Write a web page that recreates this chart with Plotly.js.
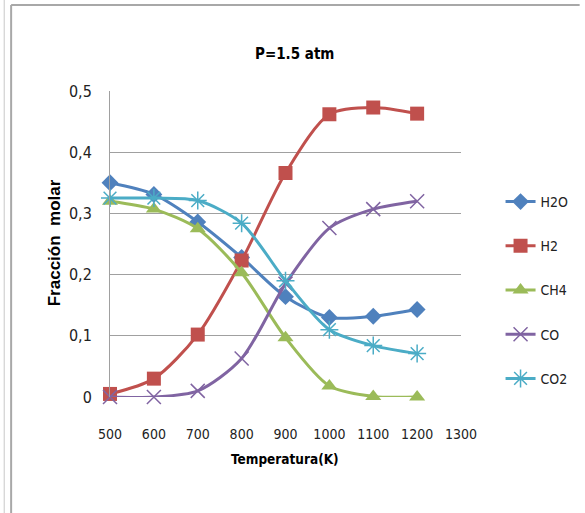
<!DOCTYPE html>
<html>
<head>
<meta charset="utf-8">
<script src="https://cdn.plot.ly/plotly-3.0.1.min.js"></script>
<style>html,body{margin:0;padding:0;background:#fff;}#chart{width:585px;height:513px;}</style>
</head>
<body>
<div id="chart"></div>
<script>
const temperatures = [500, 600, 700, 800, 900, 1000, 1100, 1200];
const seriesNames = ["H2O", "H2", "CH4", "CO", "CO2"];
const h2o = [0.350, 0.331, 0.286, 0.228, 0.164, 0.130, 0.132, 0.143];
const h2  = [0.005, 0.030, 0.102, 0.223, 0.366, 0.462, 0.473, 0.463];
const ch4 = [0.320, 0.307, 0.275, 0.203, 0.097, 0.018, 0.001, 0.000];
const co  = [0.000, 0.000, 0.010, 0.063, 0.185, 0.276, 0.307, 0.320];
const co2 = [0.325, 0.325, 0.321, 0.284, 0.190, 0.110, 0.084, 0.071];
const xTickVals = [500, 600, 700, 800, 900, 1000, 1100, 1200, 1300];
const yTickVals = [0, 0.1, 0.2, 0.3, 0.4, 0.5];
const yTickLabels = ["0", "0,1", "0,2", "0,3", "0,4", "0,5"];

const colors = ["#4F81BD", "#C0504D", "#9BBB59", "#8064A2", "#4BACC6"];
const symbols = ["diamond", "square", "triangle-up", "x-thin-open", "asterisk-open"];
const sizes = [13, 14, 14, 14, 15];
const values = [h2o, h2, ch4, co, co2];

const FONT = "DejaVu Sans Condensed, Liberation Sans Narrow, sans-serif";
// plot area in pixels: x 110..465, y 91..397
const L = 110, R = 465, T = 91, B = 397, W = 585, H = 513;
const px = p => (p - L) / (R - L);
const py = p => (B - p) / (B - T);

const traces = values.map((v, i) => ({
  x: temperatures, y: v, name: seriesNames[i], type: "scatter", mode: "lines+markers",
  line: {color: colors[i], width: 3, shape: "spline", smoothing: 0.8},
  marker: {symbol: symbols[i], size: sizes[i], color: colors[i],
           line: {color: colors[i], width: (i >= 3 ? 1.5 : 0)}},
  legendgroup: "g" + i, cliponaxis: false
}));

const layout = {
  width: W, height: H,
  margin: {l: L, r: W - R, t: T, b: H - B, pad: 0},
  paper_bgcolor: "#fff", plot_bgcolor: "#fff",
  showlegend: true,
  font: {family: FONT, color: "#222", size: 14},
  xaxis: {range: [500, 1300], tickvals: xTickVals, ticktext: xTickVals.map(String),
          showgrid: false, zeroline: false, showline: false, ticks: "", ticklen: 0,
          ticklabelstandoff: 27, tickfont: {size: 14}, fixedrange: true},
  yaxis: {range: [0, 0.5], tickvals: yTickVals, ticktext: yTickLabels,
          showgrid: true, gridcolor: "#A0A0A0", gridwidth: 1, zeroline: false,
          showline: true, linecolor: "#A0A0A0", linewidth: 1, ticks: "", ticklabelstandoff: 14,
          tickfont: {size: 16}, fixedrange: true},
  legend: {x: px(505), y: py(186), xanchor: "left", yanchor: "top",
           font: {size: 14}, tracegroupgap: 23, itemwidth: 30, bgcolor: "rgba(0,0,0,0)"},
  annotations: [
    {text: "<b>P=1.5 atm</b>", x: px(297), y: py(43), xref: "paper", yref: "paper",
     showarrow: false, font: {size: 15, family: FONT, color: "#000"}},
    {text: "<b>Temperatura(K)</b>", x: px(287), y: py(469), xref: "paper", yref: "paper",
     showarrow: false, font: {size: 13.5, family: FONT, color: "#000"}},
    {text: "<b>Fracción  molar</b>", x: px(42), y: py(243), xref: "paper", yref: "paper",
     showarrow: false, textangle: -90, font: {size: 17, family: "Liberation Sans, Arial, sans-serif", color: "#000"}}
  ],
  shapes: [
    {type: "line", xref: "paper", yref: "paper", x0: px(10), x1: px(585), y0: py(5), y1: py(5),
     line: {color: "#A8A8A8", width: 2}},
    {type: "line", xref: "paper", yref: "paper", x0: px(10), x1: px(10), y0: py(5), y1: py(513),
     line: {color: "#A8A8A8", width: 2}},
    {type: "line", xref: "paper", yref: "paper", x0: px(3), x1: px(3), y0: py(0), y1: py(513),
     line: {color: "#C8C8C8", width: 1}}
  ]
};

Plotly.newPlot("chart", traces, layout, {displayModeBar: false, staticPlot: true});
</script>
</body>
</html>
